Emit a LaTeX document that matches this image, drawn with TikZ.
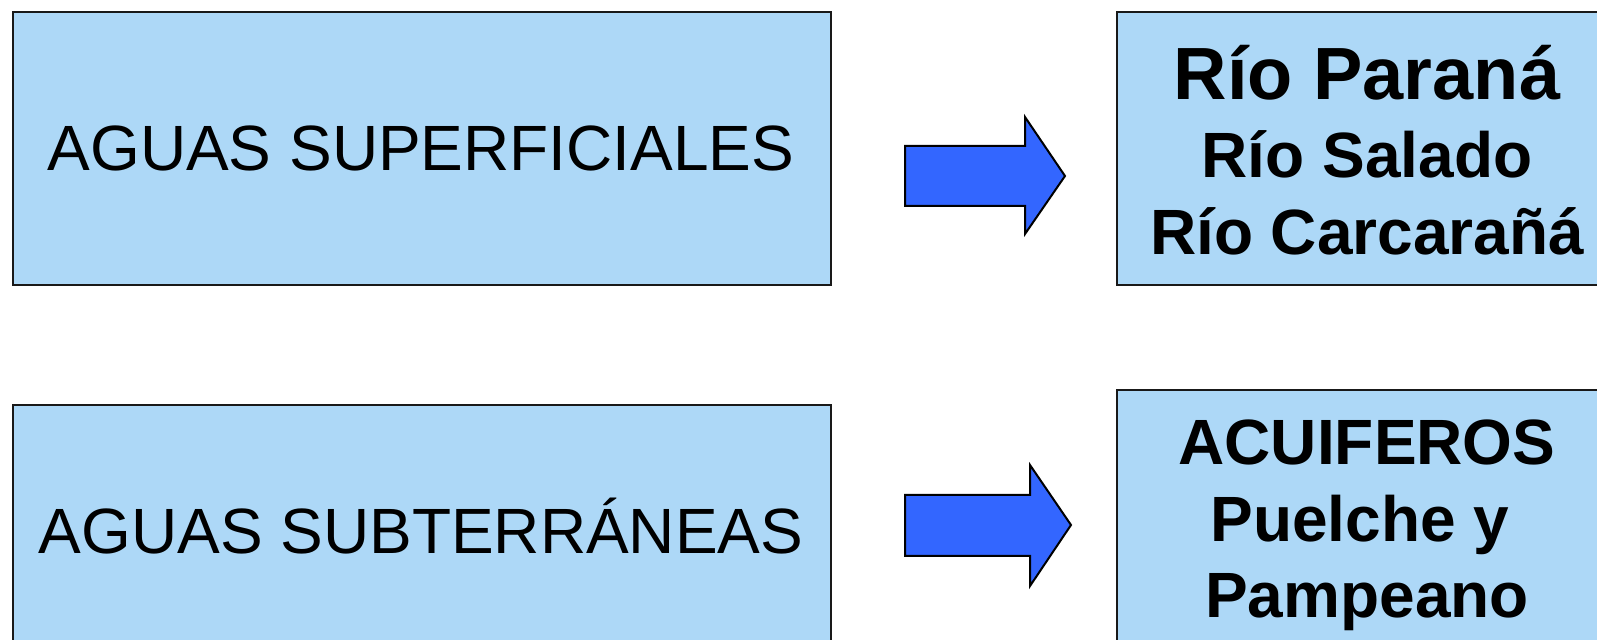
\documentclass[tikz,border=0pt]{standalone}
\usepackage{fontspec}
\setmainfont{Liberation Sans}
\definecolor{boxfill}{RGB}{173,216,247}
\definecolor{arrowfill}{RGB}{51,102,255}
\begin{document}
\begin{tikzpicture}[x=0.5pt,y=-0.5pt,
  box/.style={draw=black!90, line width=1pt, fill=boxfill, rectangle, inner sep=0pt},
  bigarrow/.style={draw=black, line width=1pt, fill=arrowfill, line join=miter},
  plain/.style={font=\fontsize{32}{38}\selectfont, inner sep=0pt},
  bold/.style={font=\fontsize{32}{38}\selectfont\bfseries, inner sep=0pt, anchor=base},
  boldbig/.style={font=\fontsize{37}{44}\selectfont\bfseries, inner sep=0pt, anchor=base}]
\useasboundingbox (0,0) rectangle (1597,640);
\clip (0,0) rectangle (1597,640);
\fill[white] (0,0) rectangle (1597,640);
% boxes
\node[box, minimum width=409pt, minimum height=136.5pt, anchor=north west] (sup) at (12,11) {};
\node[box, minimum width=409pt, minimum height=130pt, anchor=north west] (sub) at (12,404) {};
\node[box, minimum width=252pt, minimum height=136.5pt, anchor=north west] (rios) at (1116,11) {};
\node[box, minimum width=252pt, minimum height=130pt, anchor=north west] (acu) at (1116,389) {};
% texts
\node[plain] (tsup) at (421,148) {AGUAS SUPERFICIALES};
\node[plain] (tsub) at (421,526) {AGUAS SUBTERRÁNEAS};
\node[boldbig] (r1) at (1367,100) {Río Paraná};
\node[bold] (r2) at (1367,178) {Río Salado};
\node[bold] (r3) at (1367,255) {Río Carcarañá};
\node[bold] (a1) at (1367,465) {ACUIFEROS};
\node[bold] (a2) at (1360,542) {Puelche y};
\node[bold] (a3) at (1367,618) {Pampeano};
% block arrows
\draw[bigarrow] (905,146) -- (1025,146) -- (1025,117) -- (1065,176) -- (1025,234) -- (1025,206) -- (905,206) -- cycle;
\draw[bigarrow] (905,495) -- (1030,495) -- (1030,465) -- (1071,525) -- (1030,586) -- (1030,556) -- (905,556) -- cycle;
\end{tikzpicture}
\end{document}
